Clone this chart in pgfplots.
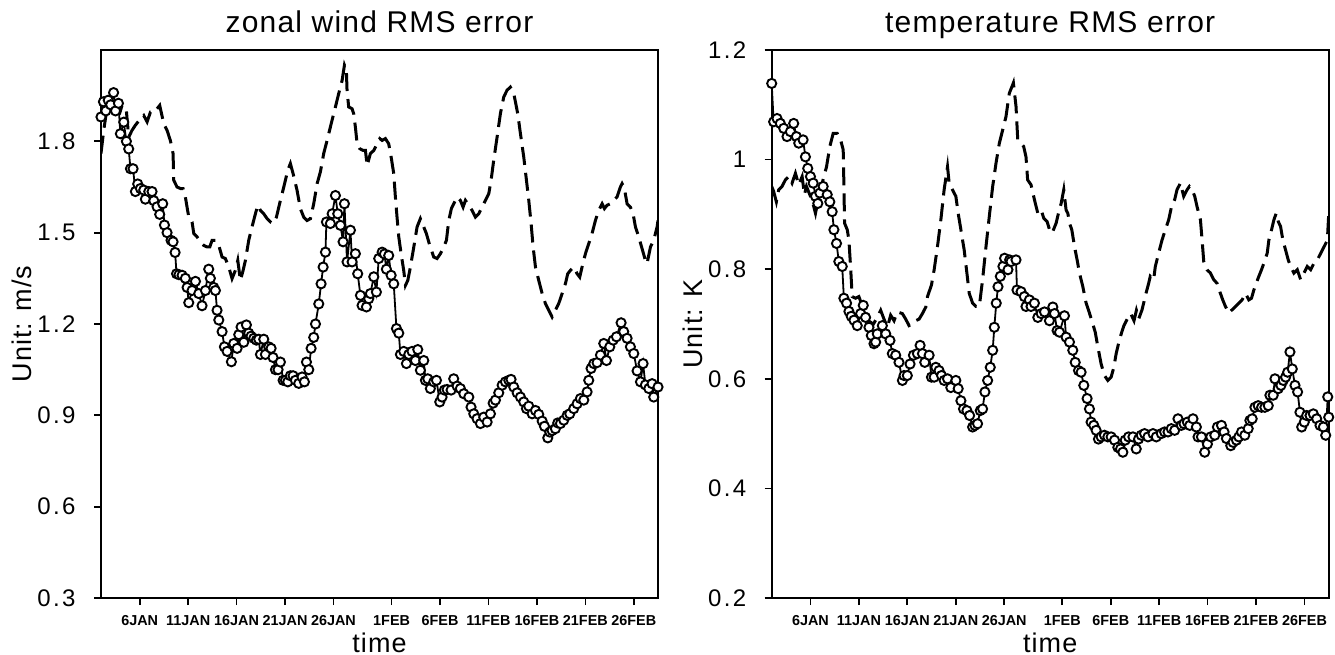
\documentclass[border=0pt]{standalone}
\usepackage{fontspec}
\setmainfont{Liberation Sans}
\newfontfamily\titlefont{Liberation Sans}[LetterSpace=4]
\newfontfamily\tickfont{Liberation Sans}[LetterSpace=10]
\usepackage{pgfplots}
\pgfplotsset{compat=1.18}
\pgfplotsset{
 myaxis/.style={
  scale only axis, width=278.5bp, height=274bp,
  xmin=2, xmax=59.5,
  xtick={6,11,16,21,26,32,37,42,47,52,57},
  xticklabels={6JAN,11JAN,16JAN,21JAN,26JAN,1FEB,6FEB,11FEB,16FEB,21FEB,26FEB},
  tick pos=left, tick align=outside, major tick length=3.5bp,
  axis line style={line width=0.85bp},
  every tick/.style={black, line width=0.85bp},
  xticklabel style={font=\fontsize{7.2bp}{8bp}\selectfont\bfseries, anchor=base, yshift=-10bp, inner sep=0pt},
  yticklabel style={font=\tickfont\fontsize{12bp}{14bp}\selectfont, anchor=east, inner sep=0pt, xshift=-9bp},
  every axis title/.style={font=\titlefont\fontsize{15bp}{18bp}\selectfont, at={(axis description cs:0.5,1)}, anchor=base, yshift=8.5bp},
  every axis x label/.style={font=\titlefont\fontsize{13.5bp}{15bp}\selectfont, at={(axis description cs:0.5,0)}, anchor=base, yshift=-27bp},
  every axis y label/.style={font=\titlefont\fontsize{13.5bp}{15bp}\selectfont, at={(axis description cs:-0.142,0.5)}, rotate=90, anchor=center},
  xlabel={time},
  clip=true,
 },
 dsh/.style={black, line width=1.5bp, dash pattern=on 9bp off 4bp, no markers},
 circ/.style={black, line width=0.9bp, mark=*, mark size=2.3bp, mark options={solid, fill=white, draw=black, line width=0.95bp}},
}
\begin{document}
\begin{tikzpicture}
\useasboundingbox (0,0) rectangle (667.5bp,327.5bp);
% ---------------- left panel ----------------
\begin{axis}[myaxis, at={(50.5bp,28.5bp)}, anchor=south west,
  ymin=0.3, ymax=2.1, ytick={0.3,0.6,0.9,1.2,1.5,1.8},
  yticklabels={0.3,0.6,0.9,1.2,1.5,1.8},
  title={zonal wind RMS error}, ylabel={Unit: m/s}]
\addplot[dsh] coordinates {
(2.00,1.76)(2.28,1.836)(2.56,1.896)(2.97,1.918)(3.32,1.924)(3.66,1.924)(4.00,1.90)(4.17,1.918)(4.62,1.90)(4.86,1.814)
(5.20,1.836)(5.55,1.853)(6.07,1.874)(6.41,1.885)(6.76,1.864)(7.10,1.896)(7.51,1.896)(7.79,1.907)(8.06,1.918)(8.48,1.858)
(8.82,1.836)(9.16,1.803)(9.44,1.76)(9.51,1.672)(9.85,1.65)(10.20,1.645)(10.47,1.645)(10.71,1.617)(11.06,1.551)(11.40,1.535)
(11.58,1.497)(11.92,1.486)(12.26,1.47)(12.61,1.458)(12.95,1.453)(13.23,1.453)(13.47,1.475)(13.81,1.475)(14.16,1.458)(14.50,1.42)
(14.84,1.415)(15.19,1.387)(15.53,1.349)(15.87,1.376)(16.12,1.409)(16.39,1.343)(16.67,1.376)(16.91,1.409)(17.25,1.475)(17.59,1.519)
(17.94,1.562)(18.18,1.59)(18.46,1.573)(18.80,1.562)(19.15,1.546)(19.49,1.535)(19.76,1.53)(20.11,1.551)(20.52,1.606)(20.87,1.65)
(21.28,1.705)(21.55,1.727)(21.83,1.694)(22.24,1.639)(22.58,1.579)(22.93,1.551)(23.27,1.54)(23.62,1.546)(23.96,1.595)(24.31,1.661)
(24.65,1.70)(24.99,1.76)(25.34,1.803)(25.85,1.869)(26.20,1.913)(26.54,1.957)(26.89,2.0)(27.13,2.05)(27.33,2.033)(27.40,1.967)
(27.57,1.913)(27.92,1.907)(28.09,1.89)(28.26,1.847)(28.44,1.792)(28.71,1.776)(29.05,1.77)(29.30,1.77)(29.47,1.72)(29.81,1.76)
(30.16,1.77)(30.50,1.792)(30.78,1.809)(31.02,1.803)(31.36,1.809)(31.70,1.792)(31.95,1.749)(32.22,1.694)(32.39,1.617)(32.56,1.551)
(32.74,1.486)(32.98,1.431)(33.25,1.376)(33.43,1.327)(33.67,1.343)(33.94,1.387)(34.29,1.453)(34.63,1.519)(34.97,1.546)(35.25,1.524)
(35.59,1.497)(35.94,1.458)(36.35,1.42)(36.69,1.415)(37.04,1.431)(37.38,1.453)(37.66,1.475)(37.90,1.54)(38.17,1.579)(38.41,1.595)
(38.76,1.617)(39.10,1.606)(39.38,1.584)(39.62,1.606)(39.97,1.59)(40.31,1.573)(40.65,1.551)(41.00,1.562)(41.34,1.584)(41.68,1.606)
(42.03,1.628)(42.27,1.672)(42.54,1.738)(42.89,1.814)(43.23,1.891)(43.58,1.946)(43.92,1.968)(44.26,1.978)(44.61,1.957)(45.02,1.891)
(45.30,1.825)(45.64,1.749)(45.92,1.672)(46.16,1.606)(46.40,1.53)(46.61,1.453)(46.85,1.387)(47.19,1.343)(47.54,1.30)(47.88,1.267)
(48.22,1.245)(48.57,1.223)(48.91,1.245)(49.25,1.267)(49.60,1.30)(49.94,1.332)(50.18,1.365)(50.46,1.376)(50.80,1.387)(51.15,1.365)
(51.42,1.354)(51.66,1.387)(52.01,1.431)(52.35,1.464)(52.69,1.497)(53.04,1.54)(53.38,1.573)(53.73,1.595)(53.97,1.579)(54.24,1.59)
(54.59,1.595)(54.93,1.606)(55.27,1.617)(55.62,1.65)(55.79,1.661)(56.03,1.645)(56.31,1.595)(56.65,1.584)(56.93,1.562)(57.17,1.519)
(57.51,1.486)(57.86,1.447)(58.20,1.409)(58.37,1.398)(58.72,1.453)(59.06,1.475)(59.41,1.519)(59.50,1.54)
};
\addplot[circ] coordinates {
(2.00,1.88)(2.25,1.93)(2.50,1.90)(2.75,1.935)(3.00,1.92)(3.30,1.96)(3.50,1.90)(3.80,1.925)(4.00,1.825)(4.35,1.863)
(4.62,1.80)(4.86,1.775)(5.04,1.71)(5.31,1.71)(5.55,1.635)(5.79,1.66)(6.07,1.645)(6.41,1.64)(6.58,1.61)(6.93,1.635)
(7.27,1.635)(7.45,1.605)(7.79,1.585)(8.06,1.56)(8.37,1.595)(8.55,1.525)(8.82,1.50)(9.23,1.475)(9.44,1.47)(9.65,1.435)
(9.80,1.365)(10.05,1.362)(10.37,1.36)(10.71,1.35)(10.89,1.32)(11.06,1.27)(11.40,1.31)(11.75,1.34)(12.09,1.30)(12.43,1.26)
(12.78,1.31)(13.12,1.38)(13.29,1.35)(13.64,1.32)(13.81,1.31)(13.98,1.245)(14.16,1.213)(14.50,1.175)(14.74,1.125)(15.02,1.11)
(15.46,1.076)(15.70,1.136)(16.05,1.12)(16.22,1.165)(16.46,1.19)(16.74,1.14)(17.01,1.197)(17.25,1.17)(17.49,1.16)(17.77,1.153)
(18.04,1.147)(18.28,1.15)(18.46,1.10)(18.80,1.15)(18.97,1.10)(19.32,1.125)(19.56,1.12)(19.76,1.09)(20.01,1.05)(20.28,1.05)
(20.52,1.075)(20.80,1.015)(21.04,1.015)(21.28,1.01)(21.55,1.03)(21.83,1.03)(22.07,1.015)(22.41,1.005)(22.76,1.026)(23.00,1.01)
(23.21,1.075)(23.45,1.05)(23.69,1.12)(23.96,1.156)(24.14,1.20)(24.48,1.266)(24.72,1.332)(24.93,1.387)(25.17,1.436)(25.27,1.535)
(25.68,1.53)(25.86,1.562)(26.20,1.622)(26.44,1.562)(26.72,1.524)(26.99,1.47)(27.13,1.595)(27.40,1.404)(27.75,1.508)(27.92,1.404)
(28.26,1.431)(28.50,1.365)(28.78,1.294)(28.95,1.261)(29.40,1.256)(29.64,1.283)(29.81,1.30)(30.16,1.355)(30.43,1.305)(30.67,1.415)
(31.02,1.436)(31.26,1.43)(31.46,1.38)(31.70,1.425)(31.95,1.36)(32.22,1.332)(32.50,1.185)(32.74,1.17)(32.91,1.10)(33.25,1.11)
(33.53,1.07)(33.77,1.10)(34.11,1.11)(34.46,1.08)(34.70,1.116)(34.97,1.048)(35.32,1.08)(35.49,1.015)(35.73,1.02)(36.00,0.988)
(36.35,1.01)(36.63,1.015)(36.97,0.944)(37.21,0.96)(37.45,0.983)(37.73,0.985)(38.14,0.983)(38.41,1.02)(38.76,0.996)(39.10,0.988)
(39.45,0.971)(39.97,0.96)(40.20,0.927)(40.48,0.905)(40.82,0.889)(41.17,0.873)(41.51,0.894)(41.86,0.878)(42.20,0.905)(42.48,0.94)
(42.72,0.95)(43.06,0.974)(43.41,0.999)(43.75,1.01)(44.10,1.015)(44.33,1.018)(44.61,0.993)(44.96,0.974)(45.30,0.96)(45.64,0.944)
(45.92,0.922)(46.16,0.93)(46.51,0.905)(46.85,0.916)(47.19,0.903)(47.54,0.881)(47.78,0.864)(48.12,0.826)(48.33,0.845)(48.57,0.85)
(48.91,0.856)(49.15,0.875)(49.43,0.873)(49.77,0.884)(50.12,0.90)(50.39,0.905)(50.80,0.922)(51.15,0.938)(51.49,0.955)(51.84,0.95)
(52.18,0.977)(52.35,1.015)(52.59,1.054)(52.87,1.07)(53.21,1.073)(53.56,1.098)(53.90,1.136)(54.18,1.08)(54.52,1.125)(54.87,1.147)
(55.21,1.158)(55.69,1.204)(55.96,1.175)(56.31,1.153)(56.65,1.125)(57.00,1.103)(57.34,1.046)(57.69,1.01)(57.96,1.07)(58.20,1.00)
(58.55,0.988)(58.89,1.004)(59.06,0.96)(59.50,0.993)
};
\end{axis}
% ---------------- right panel ----------------
\begin{axis}[myaxis, at={(385.85bp,28.5bp)}, anchor=south west,
  ymin=0.2, ymax=1.2, ytick={0.2,0.4,0.6,0.8,1,1.2},
  yticklabels={0.2,0.4,0.6,0.8,1,1.2},
  title={temperature RMS error}, ylabel={Unit: K}]
\addplot[dsh] coordinates {
(2.00,0.951)(2.20,0.942)(2.48,0.923)(2.72,0.945)(3.07,0.951)(3.41,0.963)(3.76,0.969)(4.10,0.957)(4.45,0.975)(4.79,0.954)
(5.14,0.969)(5.38,0.936)(5.59,0.951)(6.00,0.933)(6.35,0.914)(6.52,0.902)(6.86,0.933)(7.21,0.957)(7.66,0.987)(8.00,1.024)
(8.35,1.048)(8.76,1.048)(9.11,1.036)(9.38,1.018)(9.45,0.957)(9.52,0.884)(9.80,0.872)(9.97,0.853)(10.14,0.805)(10.31,0.75)
(10.66,0.747)(11.00,0.75)(11.25,0.738)(11.52,0.726)(11.83,0.719)(12.04,0.705)(12.50,0.700)(12.90,0.712)(13.25,0.725)(13.59,0.709)
(13.94,0.694)(14.28,0.716)(14.63,0.706)(14.97,0.722)(15.49,0.719)(15.83,0.709)(16.18,0.697)(16.53,0.70)(16.87,0.706)(17.22,0.709)
(17.56,0.719)(17.91,0.731)(18.08,0.75)(18.49,0.771)(18.77,0.799)(19.11,0.841)(19.46,0.89)(19.80,0.945)(20.15,0.987)(20.32,0.957)
(20.66,0.945)(21.01,0.933)(21.25,0.902)(21.53,0.872)(21.87,0.835)(22.15,0.793)(22.39,0.756)(22.74,0.738)(23.08,0.732)(23.43,0.732)
(23.77,0.781)(24.12,0.841)(24.46,0.896)(24.81,0.951)(25.15,0.993)(25.50,1.03)(25.84,1.054)(26.18,1.078)(26.53,1.121)(26.95,1.140)
(27.22,1.097)(27.40,1.036)(27.74,1.03)(28.01,1.024)(28.25,1.005)(28.42,0.963)(28.77,0.954)(29.12,0.927)(29.47,0.902)(29.81,0.908)
(30.09,0.893)(30.43,0.887)(30.78,0.866)(31.02,0.869)(31.36,0.884)(31.60,0.902)(31.88,0.92)(32.15,0.945)(32.39,0.908)(32.57,0.902)
(32.74,0.884)(32.98,0.872)(33.26,0.841)(33.53,0.817)(33.77,0.793)(34.12,0.768)(34.46,0.738)(34.80,0.72)(35.15,0.70)(35.40,0.685)
(35.67,0.658)(36.01,0.627)(36.35,0.606)(36.70,0.597)(37.04,0.603)(37.32,0.621)(37.56,0.646)(37.80,0.664)(38.08,0.682)(38.36,0.697)
(38.70,0.709)(39.06,0.719)(39.40,0.706)(39.65,0.725)(39.90,0.71)(40.23,0.726)(40.64,0.756)(40.91,0.774)(41.08,0.787)(41.43,0.781)
(41.60,0.805)(41.94,0.829)(42.29,0.853)(42.63,0.872)(42.98,0.89)(43.27,0.914)(43.60,0.927)(43.84,0.945)(44.19,0.957)(44.53,0.933)
(44.88,0.945)(45.12,0.951)(45.40,0.945)(45.67,0.933)(45.91,0.914)(46.26,0.89)(46.43,0.853)(46.60,0.814)(46.94,0.799)(47.29,0.793)
(47.63,0.781)(47.98,0.774)(48.32,0.756)(48.56,0.744)(48.84,0.732)(49.18,0.72)(49.53,0.726)(49.87,0.732)(50.22,0.738)(50.56,0.744)
(50.91,0.756)(51.25,0.744)(51.53,0.747)(51.77,0.762)(52.01,0.774)(52.29,0.787)(52.56,0.799)(52.81,0.811)(53.15,0.829)(53.32,0.853)
(53.60,0.872)(53.84,0.89)(54.08,0.902)(54.29,0.887)(54.53,0.878)(54.77,0.853)(55.05,0.835)(55.32,0.817)(55.57,0.805)(55.91,0.793)
(56.26,0.799)(56.60,0.781)(56.95,0.793)(57.29,0.805)(57.64,0.799)(57.98,0.811)(58.33,0.817)(58.67,0.829)(59.02,0.841)(59.36,0.853)
(59.50,0.90)
};
\addplot[circ] coordinates {
(2.00,1.139)(2.20,1.069)(2.55,1.075)(2.89,1.066)(3.24,1.057)(3.58,1.042)(3.93,1.051)(4.27,1.066)(4.55,1.042)(4.79,1.03)
(5.24,1.036)(5.48,1.005)(5.72,0.984)(6.00,0.969)(6.28,0.957)(6.52,0.933)(6.76,0.92)(6.97,0.939)(7.31,0.951)(7.73,0.936)
(8.00,0.923)(8.24,0.905)(8.42,0.872)(8.69,0.847)(8.93,0.814)(9.28,0.805)(9.45,0.747)(9.73,0.738)(9.97,0.723)(10.21,0.714)
(10.49,0.707)(10.83,0.697)(11.18,0.719)(11.45,0.734)(11.69,0.712)(12.04,0.694)(12.28,0.679)(12.56,0.664)(12.73,0.667)(12.90,0.682)
(13.42,0.697)(13.77,0.682)(14.21,0.67)(14.45,0.646)(14.80,0.643)(15.14,0.63)(15.49,0.597)(15.66,0.606)(16.00,0.606)(16.28,0.627)
(16.63,0.643)(17.04,0.646)(17.32,0.661)(17.56,0.646)(17.80,0.63)(18.25,0.643)(18.49,0.603)(18.77,0.603)(18.94,0.621)(19.28,0.615)
(19.53,0.606)(19.80,0.597)(20.15,0.60)(20.49,0.584)(21.01,0.597)(21.25,0.582)(21.53,0.56)(21.80,0.545)(22.15,0.542)(22.43,0.533)
(22.74,0.512)(22.98,0.515)(23.25,0.518)(23.53,0.542)(23.77,0.545)(24.01,0.576)(24.29,0.597)(24.56,0.621)(24.81,0.652)(24.98,0.694)
(25.18,0.738)(25.36,0.768)(25.60,0.787)(25.87,0.805)(26.04,0.82)(26.39,0.799)(26.56,0.817)(26.71,0.814)(27.22,0.817)(27.32,0.762)
(27.74,0.759)(28.08,0.75)(28.25,0.732)(28.60,0.744)(28.77,0.732)(29.12,0.738)(29.47,0.712)(29.82,0.719)(30.16,0.722)(30.67,0.706)
(31.02,0.731)(31.19,0.719)(31.46,0.688)(31.71,0.685)(32.22,0.715)(32.39,0.676)(32.74,0.667)(33.08,0.652)(33.33,0.63)(33.67,0.615)
(33.94,0.612)(34.22,0.588)(34.56,0.564)(34.80,0.545)(34.97,0.521)(35.25,0.515)(35.49,0.506)(35.73,0.49)(36.01,0.494)(36.35,0.497)
(36.70,0.494)(37.04,0.494)(37.39,0.488)(37.73,0.475)(38.01,0.472)(38.25,0.466)(38.49,0.488)(38.84,0.494)(39.29,0.494)(39.63,0.472)
(39.87,0.49)(40.15,0.497)(40.49,0.50)(40.84,0.494)(41.36,0.50)(41.70,0.494)(42.22,0.50)(42.56,0.503)(42.91,0.503)(43.25,0.509)
(43.60,0.506)(43.94,0.527)(44.29,0.515)(44.56,0.518)(44.91,0.521)(45.15,0.515)(45.49,0.527)(45.84,0.512)(46.01,0.494)(46.36,0.494)
(46.70,0.466)(46.98,0.481)(47.32,0.494)(47.74,0.497)(48.01,0.512)(48.43,0.515)(48.70,0.503)(48.94,0.491)(49.39,0.478)(49.63,0.484)
(49.98,0.488)(50.22,0.494)(50.50,0.503)(50.84,0.497)(51.19,0.509)(51.36,0.524)(51.60,0.527)(51.88,0.548)(52.22,0.551)(52.57,0.548)
(52.91,0.548)(53.26,0.551)(53.43,0.57)(53.77,0.57)(53.95,0.60)(54.29,0.582)(54.57,0.588)(54.81,0.597)(55.05,0.603)(55.26,0.612)
(55.50,0.649)(55.74,0.618)(56.02,0.588)(56.29,0.576)(56.53,0.539)(56.71,0.512)(56.98,0.521)(57.22,0.533)(57.57,0.533)(57.91,0.536)
(58.26,0.527)(58.60,0.515)(58.95,0.512)(59.19,0.497)(59.40,0.567)(59.50,0.53)
};
\end{axis}
\end{tikzpicture}
\end{document}
